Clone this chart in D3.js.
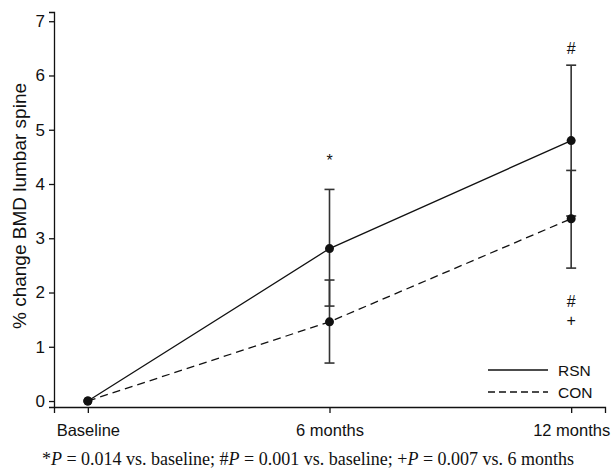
<!DOCTYPE html>
<html>
  <head>
    <script src="https://cdn.jsdelivr.net/npm/d3@7"></script>
    <style>
      body { margin: 0; background: #fff; }
    </style>
  </head>
  <body>
    <svg width="615" height="469" id="mainsvg"></svg>
    <script>
      const timepoints = ['Baseline', '6 months', '12 months'];
      const rsnMean = [0, 2.81, 4.80];
      const rsnLow = [0, 1.75, 3.41];
      const rsnHigh = [0, 3.90, 6.19];
      const conMean = [0, 1.46, 3.36];
      const conLow = [0, 0.70, 2.45];
      const conHigh = [0, 2.23, 4.25];
      const yTicks = [0, 1, 2, 3, 4, 5, 6, 7];
      // significance marks: [timepoint index, value position, symbol]
      const marks = [[1, 4.45, '*'], [2, 6.5, '#'], [2, 1.85, '#'], [2, 1.5, '+']];

      const svg = d3.select('#mainsvg');
      const font = 'Liberation Sans, Arial, sans-serif';

      const x = d3.scalePoint().domain(timepoints).range([54, 605]).padding(0.14);
      const y = d3.scaleLinear().domain([-0.11, 7.17]).range([407, 12]);

      // x axis
      const xAxis = svg.append('g').attr('transform', 'translate(0,407)')
        .call(d3.axisBottom(x).tickSizeOuter(0).tickSize(6).tickPadding(11));
      xAxis.selectAll('text').attr('font-family', font).attr('font-size', 16.5).attr('fill', '#111');
      xAxis.selectAll('line,path').attr('stroke', '#111').attr('stroke-width', 1.3);

      // y axis
      const yAxis = svg.append('g').attr('transform', 'translate(54,0)')
        .call(d3.axisLeft(y).tickValues(yTicks).tickSizeOuter(0).tickSize(5).tickPadding(4));
      yAxis.selectAll('text').attr('font-family', font).attr('font-size', 17).attr('fill', '#111');
      yAxis.selectAll('line,path').attr('stroke', '#111').attr('stroke-width', 1.3);

      svg.append('text')
        .attr('transform', 'translate(26,206) rotate(-90)')
        .attr('text-anchor', 'middle')
        .attr('font-family', font).attr('font-size', 19).attr('fill', '#111')
        .text('% change BMD lumbar spine');

      const series = [
        {name: 'RSN', mean: rsnMean, low: rsnLow, high: rsnHigh, dash: null},
        {name: 'CON', mean: conMean, low: conLow, high: conHigh, dash: '8,5'}
      ];

      const line = d3.line().x((d, i) => x(timepoints[i])).y(d => y(d));

      series.forEach(s => {
        svg.append('path').datum(s.mean)
          .attr('d', line)
          .attr('fill', 'none').attr('stroke', '#111').attr('stroke-width', 1.3)
          .attr('stroke-dasharray', s.dash);

        const eb = svg.append('g');
        timepoints.forEach((t, i) => {
          if (i === 0) return;
          eb.append('line').attr('x1', x(t)).attr('x2', x(t))
            .attr('y1', y(s.low[i])).attr('y2', y(s.high[i]))
            .attr('stroke', '#333').attr('stroke-width', 1.6);
          [s.low[i], s.high[i]].forEach(v => {
            eb.append('line').attr('x1', x(t) - 5).attr('x2', x(t) + 5)
              .attr('y1', y(v)).attr('y2', y(v))
              .attr('stroke', '#333').attr('stroke-width', 1.6);
          });
        });

        svg.append('g').selectAll('circle').data(s.mean).join('circle')
          .attr('cx', (d, i) => x(timepoints[i]))
          .attr('cy', d => y(d))
          .attr('r', 4.5)
          .attr('fill', '#111');
      });

      svg.append('g').selectAll('text').data(marks).join('text')
        .attr('x', d => x(timepoints[d[0]]))
        .attr('y', d => y(d[1]) + 6)
        .attr('text-anchor', 'middle')
        .attr('font-family', font).attr('font-size', 16).attr('fill', '#111')
        .text(d => d[2]);

      // legend
      const legend = svg.append('g');
      series.forEach((s, i) => {
        const ly = 370 + i * 22;
        legend.append('line').attr('x1', 488).attr('x2', 548).attr('y1', ly).attr('y2', ly)
          .attr('stroke', '#111').attr('stroke-width', 1.3)
          .attr('stroke-dasharray', s.dash ? '7,4' : null);
        legend.append('text').attr('x', 558).attr('y', ly + 5.5)
          .attr('font-family', font).attr('font-size', 15.5).attr('fill', '#111')
          .text(s.name);
      });

      // caption
      const cap = svg.append('text')
        .attr('x', 308).attr('y', 465).attr('text-anchor', 'middle')
        .attr('font-family', 'Liberation Serif, Times New Roman, serif')
        .attr('font-size', 18).attr('fill', '#111');
      cap.append('tspan').text('*');
      cap.append('tspan').attr('font-style', 'italic').text('P');
      cap.append('tspan').text(' = 0.014 vs. baseline; #');
      cap.append('tspan').attr('font-style', 'italic').text('P');
      cap.append('tspan').text(' = 0.001 vs. baseline; +');
      cap.append('tspan').attr('font-style', 'italic').text('P');
      cap.append('tspan').text(' = 0.007 vs. 6 months');
    </script>
  </body>
</html>
